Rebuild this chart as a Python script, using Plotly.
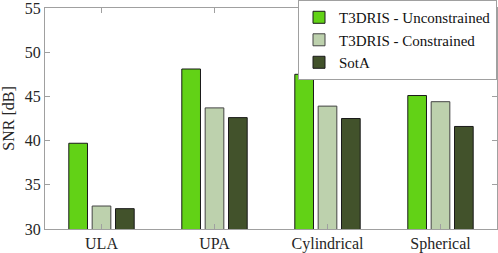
import plotly.graph_objects as go

categories = ["ULA", "UPA", "Cylindrical", "Spherical"]
unconstrained = [39.7, 48.1, 47.5, 45.1]
constrained = [32.6, 43.7, 43.9, 44.4]
sota = [32.3, 42.6, 42.5, 41.6]
y_ticks = [30, 35, 40, 45, 50, 55]

font_family = "serif"
fig = go.Figure()
fig.add_bar(x=categories, y=unconstrained, name="T3DRIS - Unconstrained",
            marker=dict(color="#62d216", line=dict(color="#1a1a1a", width=1)))
fig.add_bar(x=categories, y=constrained, name="T3DRIS - Constrained",
            marker=dict(color="#bdd1ad", line=dict(color="#444444", width=1)))
fig.add_bar(x=categories, y=sota, name="SotA",
            marker=dict(color="#42522b", line=dict(color="#1a1a1a", width=1)))

fig.update_layout(
    width=498, height=253,
    margin=dict(l=45, r=1, t=8, b=24, autoexpand=False),
    plot_bgcolor="white", paper_bgcolor="white",
    barmode="group", bargap=0.38, bargroupgap=0.2,
    font=dict(family=font_family, size=16, color="#262626"),
    legend=dict(x=1, y=1.036, xanchor="right", yanchor="top",
                bgcolor="white", bordercolor="#a0a0a0", borderwidth=1,
                font=dict(family=font_family, size=15, color="#111111"),
                itemwidth=30, tracegroupgap=0,
                ),
    showlegend=True,
)
fig.update_xaxes(range=[-0.5, 3.5], showline=True, linecolor="#a0a0a0", mirror="ticks",
                 ticks="inside", ticklen=5, tickcolor="#a0a0a0", showgrid=False,
                 tickfont=dict(family=font_family, size=16, color="#262626"))
fig.update_yaxes(range=[30, 55], tickvals=y_ticks, showline=True, linecolor="#a0a0a0",
                 mirror="ticks", ticks="inside", ticklen=5, tickcolor="#a0a0a0",
                 showgrid=False, zeroline=False, ticklabeloverflow="allow",
                 title=dict(text="SNR [dB]", standoff=8, font=dict(family=font_family, size=16)),
                 tickfont=dict(family=font_family, size=16, color="#262626"))
fig.write_html("out.html", config={"displayModeBar": False},
               post_script="document.body.style.margin='0';")
